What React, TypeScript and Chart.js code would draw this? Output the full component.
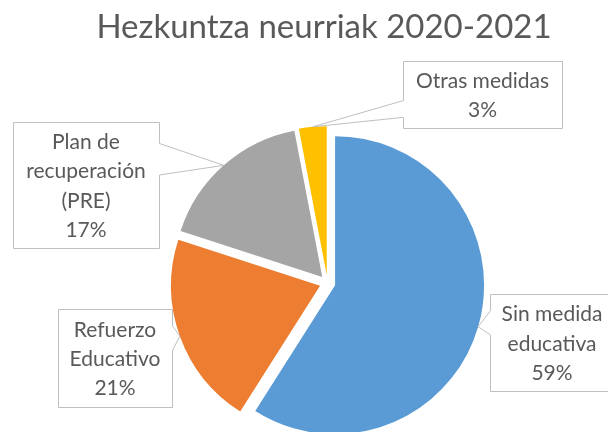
import React, { useEffect, useRef } from "react";
import { Chart, registerables } from "chart.js";

Chart.register(...registerables);

// ---- data ----
const TITLE = "Hezkuntza neurriak 2020-2021";
const CATEGORIES: string[][] = [
  ["Sin medida", "educativa"],
  ["Refuerzo", "Educativo"],
  ["Plan de", "recuperación", "(PRE)"],
  ["Otras medidas"],
];
const VALUES: number[] = [59, 21, 17, 3];
const COLORS: string[] = ["#5B9BD5", "#ED7D31", "#A5A5A5", "#FFC000"];

// ---- layout / style ----
const EXPLODE = 7.9;
const TEXT_COLOR = "#595959";
const BOX_BORDER = "#BFBFBF";
const LABEL_FONT = "21px Lato";
const LABEL_LINE = 29.3;
const TITLE_FONT = "33px Lato";
const CALLOUT_BOXES = [
  { x: 490, y: 294, w: 124, h: 97 },
  { x: 58, y: 309, w: 114, h: 98 },
  { x: 13, y: 122, w: 146, h: 126 },
  { x: 403, y: 61, w: 159, h: 67 },
];

function calloutPath(ctx: CanvasRenderingContext2D, b: any, tx: number, ty: number) {
  const L = Math.round(b.x) + 0.5;
  const T = Math.round(b.y) + 0.5;
  const R = Math.round(b.x + b.w) + 0.5;
  const B = Math.round(b.y + b.h) + 0.5;
  const cy = (T + B) / 2;
  const h = B - T;
  const f1 = ty < cy ? 1 / 6 : 7 / 12;
  const f2 = ty < cy ? 5 / 12 : 5 / 6;
  const y1 = T + h * f1;
  const y2 = T + h * f2;
  ctx.beginPath();
  if (tx < L) {
    ctx.moveTo(L, T);
    ctx.lineTo(R, T);
    ctx.lineTo(R, B);
    ctx.lineTo(L, B);
    ctx.lineTo(L, y2);
    ctx.lineTo(tx, ty);
    ctx.lineTo(L, y1);
    ctx.closePath();
  } else if (tx > R) {
    ctx.moveTo(L, T);
    ctx.lineTo(R, T);
    ctx.lineTo(R, y1);
    ctx.lineTo(tx, ty);
    ctx.lineTo(R, y2);
    ctx.lineTo(R, B);
    ctx.lineTo(L, B);
    ctx.closePath();
  } else {
    ctx.rect(L, T, R - L, B - T);
  }
}

const explodePlugin = {
  id: "explodePie",
  beforeDatasetDraw(chart: any, args: any) {
    const ctx = chart.ctx;
    args.meta.data.forEach((el: any) => {
      const half = (el.startAngle + el.endAngle) / 2;
      ctx.save();
      ctx.translate(Math.cos(half) * EXPLODE, Math.sin(half) * EXPLODE);
      el.draw(ctx);
      ctx.restore();
    });
    return false;
  },
  afterDraw(chart: any) {
    const ctx = chart.ctx;
    const meta = chart.getDatasetMeta(0);
    const total = VALUES.reduce((a, b) => a + b, 0);
    ctx.save();
    // title
    ctx.fillStyle = TEXT_COLOR;
    ctx.font = TITLE_FONT;
    ctx.textAlign = "center";
    ctx.textBaseline = "alphabetic";
    ctx.fillText(TITLE, 324, 38);
    // callouts
    meta.data.forEach((el: any, i: number) => {
      const half = (el.startAngle + el.endAngle) / 2;
      const r = el.outerRadius + EXPLODE;
      const tx = el.x + Math.cos(half) * r;
      const ty = el.y + Math.sin(half) * r;
      const b = CALLOUT_BOXES[i];
      calloutPath(ctx, b, tx, ty);
      ctx.fillStyle = "#FFFFFF";
      ctx.fill();
      ctx.strokeStyle = BOX_BORDER;
      ctx.lineWidth = 1;
      ctx.stroke();
      const lines = [...CATEGORIES[i], Math.round((VALUES[i] / total) * 100) + "%"];
      ctx.fillStyle = TEXT_COLOR;
      ctx.font = LABEL_FONT;
      ctx.textAlign = "center";
      const cx = b.x + b.w / 2;
      const cy = b.y + b.h / 2;
      lines.forEach((t, k) => {
        const y = cy + (k - (lines.length - 1) / 2) * LABEL_LINE + 8;
        ctx.fillText(t, cx, y);
      });
    });
    ctx.restore();
  },
};

export default function App() {
  const ref = useRef<HTMLCanvasElement | null>(null);
  useEffect(() => {
    document.body.style.margin = "0";
    const chart = new Chart(ref.current as HTMLCanvasElement, {
      type: "pie",
      data: {
        labels: CATEGORIES,
        datasets: [
          {
            data: VALUES,
            backgroundColor: COLORS,
            borderWidth: 0,
            radius: 149,
          } as any,
        ],
      },
      options: {
        responsive: true,
        maintainAspectRatio: false,
        animation: false,
        events: [],
        layout: { padding: { left: 47, right: 0, top: 0, bottom: 0 } },
        plugins: {
          legend: { display: false },
          title: { display: false },
          tooltip: { enabled: false },
        },
      },
      plugins: [explodePlugin],
    });
    return () => chart.destroy();
  }, []);
  return (
    <div style={{ position: "fixed", left: 0, top: 0, width: 608, height: 432, overflow: "hidden", background: "#fff" }}>
      <div style={{ position: "relative", width: 608, height: 566 }}>
        <canvas ref={ref} />
      </div>
    </div>
  );
}
